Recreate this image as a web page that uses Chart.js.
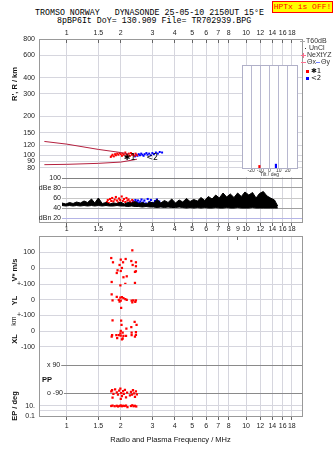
<!DOCTYPE html>
<html>
<head>
<meta charset="utf-8">
<script src="https://cdn.jsdelivr.net/npm/chart.js@4.4.1/dist/chart.umd.min.js"></script>
<style>
  body { margin: 0; background: #fff; width: 335px; height: 451px; position: relative; overflow: hidden; }
  canvas { position: absolute; }
  .titulo { position: absolute; font: 8.3px "Liberation Mono", monospace; white-space: pre; line-height: 10px; color: #000; }
  #hptx { position: absolute; left: 272px; top: 1px; width: 59px; height: 10px; border: 1px solid #f00; background: #ff0;
          color: #f00; font: 8px "Liberation Mono", monospace; line-height: 10px; text-align: center; white-space: pre; }
</style>
</head>
<body>
<div class="titulo" style="left:35px;top:8px">TROMSO NORWAY   DYNASONDE 25-05-10 2150UT 15°E</div>
<div class="titulo" style="left:57px;top:16px">8pBP6It DoY= 130.909 File= TR702939.BPG</div>
<div id="hptx">HPTx is OFF!</div>

<canvas id="miGrafico" width="335" height="226" style="left:0;top:0"></canvas>
<canvas id="graficoTilt" width="64" height="118" style="left:238px;top:62px"></canvas>
<canvas id="miGrafico2" width="263" height="48" style="left:39px;top:174px"></canvas>
<canvas id="miGrafico3" width="335" height="229" style="left:0;top:222px"></canvas>

<script>
/* DATOS */
const freqTicks = [1, 1.5, 2, 3, 4, 5, 6, 7, 8, 10, 12, 14, 16, 18];
const freqTicksMedio = [1, 1.5, 2, 3, 4, 5, 6, 7, 8, 9, 10, 12, 14, 16, 18];
const kmTicks = [80, 90, 100, 120, 150, 200, 300, 400, 600, 800];
const dbTicks = [20, 40, 60, 80, 100];
const tiltTicks = [-20, -10, 0, 10, 20];
const vTicks = [-100, 0, 100, 200];
const ylTicks = [-100, 0, 100];
const xlTicks = [-100, 0, 100];
const ppTicks = [-90, 90];
const epTicks = [0.1, 1, 10];

// curvas del modelo (rojo oscuro)
const curvaArribaFreq = [0.75, 1.0, 1.5, 2.0, 2.22];
const curvaArribaKm = [128, 122, 111, 105, 102];
const curvaAbajoFreq = [0.75, 1.0, 1.5, 2.0, 2.46];
const curvaAbajoKm = [84.5, 85, 86.5, 88.5, 93];

// ecos modo 1 (rojo) y modo 2 (azul)
const oFreq = [1.76, 1.78, 1.80, 1.83, 1.86, 1.88, 1.91, 1.94, 1.97, 2.00, 2.03, 2.05, 2.08, 2.12, 2.15, 2.18, 2.22, 2.25, 2.28, 2.31, 2.35, 2.38, 2.42, 2.46];
const oKm = [97, 99, 101, 98, 102, 100, 103, 101, 104, 102, 99, 103, 101, 105, 102, 100, 103, 99, 104, 101, 102, 99, 103, 100];
const oAmp = [52, 56, 50, 58, 54, 60, 53, 57, 62, 55, 51, 59, 56, 63, 54, 58, 52, 60, 55, 57, 53, 50, 56, 52];
const xFreq = [2.40, 2.44, 2.48, 2.52, 2.56, 2.60, 2.64, 2.68, 2.72, 2.78, 2.82, 2.88, 2.94, 3.00, 3.06, 3.14, 3.22, 3.30, 3.40];
const xKm = [98, 101, 99, 102, 100, 103, 101, 99, 102, 104, 101, 103, 100, 104, 102, 105, 103, 106, 105];
const xAmp = [50, 54, 48, 56, 52, 55, 50, 53, 57, 51, 55, 49, 58, 52, 56, 50, 54, 57, 53];

// barrido de ruido (dB)
const barridoFreq = [1.00, 1.05, 1.10, 1.15, 1.20, 1.26, 1.32, 1.38, 1.45, 1.51, 1.58, 1.66, 1.74, 1.82, 1.91, 2.00, 2.09, 2.19, 2.29, 2.40,
  2.51, 2.63, 2.75, 2.88, 3.02, 3.16, 3.31, 3.47, 3.63, 3.80, 3.98, 4.17, 4.37, 4.57, 4.79, 5.01, 5.25, 5.50, 5.75, 6.03,
  6.31, 6.61, 6.92, 7.24, 7.59, 7.94, 8.32, 8.71, 9.12, 9.55, 10.0, 10.5, 11.0, 11.5, 12.0, 12.6, 13.2, 13.8, 14.5, 15.1];
const ruidoAlto = [50, 48, 51, 49, 52, 50, 54, 51, 58, 50, 60, 49, 51, 48, 50, 49, 52, 48, 51, 50,
  53, 49, 51, 48, 52, 50, 57, 50, 55, 51, 58, 50, 56, 52, 59, 53, 57, 54, 61, 55,
  63, 58, 66, 60, 70, 62, 68, 61, 70, 63, 72, 66, 71, 60, 69, 73, 64, 60, 56, 44];
const ruidoBajo = [45, 44, 45, 44, 45, 44, 45, 44, 45, 44, 45, 44, 45, 44, 44, 45, 44, 44, 43, 44,
  43, 43, 42, 43, 42, 42, 41, 42, 41, 42, 41, 41, 42, 41, 40, 41, 40, 41, 40, 41,
  40, 40, 41, 40, 40, 41, 40, 40, 41, 40, 40, 40, 41, 40, 40, 40, 40, 40, 40, 40];

// tilt
const tiltDeg = [-11, 7];
const tiltCuenta = [1, 1.5];

// panel inferior
const vFreq = [2.32, 1.77, 2.00, 2.13, 1.81, 2.29, 2.06, 1.97, 2.33, 2.43, 2.03, 2.43, 1.92, 2.00, 1.90, 2.43, 2.40, 2.16, 2.07, 1.78, 2.40, 2.12];
const vMs = [114, 65, 55, 59, 38, 46, 38, 21, 21, 38, 2, 13, -13, -17, -30, -19, -23, -51, -57, -87, -93, -99];
const ylFreq = [1.78, 1.90, 1.80, 1.99, 2.03, 2.07, 1.95, 2.00, 2.12, 2.16, 1.97, 2.30, 2.35, 2.43, 2.32, 2.41, 2.01, 1.99];
const ylKm = [34, 19, -4, 13, 17, 11, 0, -6, 4, 0, -11, -6, -4, -4, -17, -13, -51, 91];
const xlFreq = [1.80, 2.01, 2.39, 2.02, 2.45, 2.29, 2.15, 2.00, 2.05, 2.30, 2.43, 1.79, 1.89, 1.95, 2.00, 2.07, 2.14, 2.30, 2.43, 2.40, 1.78, 1.91, 2.05, 1.99, 2.03];
const xlKm = [70, 68, 59, 40, 40, 27, 17, 2, -8, -8, -6, -25, -25, -25, -27, -30, -30, -25, -23, -34, -34, -44, -46, -13, -51];
const ppFreq = [1.77, 1.79, 1.82, 1.86, 1.90, 1.93, 1.96, 1.99, 2.01, 2.03, 2.06, 2.08, 2.11, 2.14, 2.17, 2.28, 2.31, 2.34, 2.37, 2.40, 2.43, 2.46, 1.80, 2.00, 2.25];
const ppDeg = [-80, -72, -95, -66, -85, -100, -75, -62, -90, -110, -78, -95, -70, -118, -88, -82, -100, -72, -92, -115, -80, -98, -120, -128, -105];
const epFreq = [1.77, 1.80, 1.85, 1.90, 1.93, 1.97, 2.00, 2.03, 2.06, 2.10, 2.14, 2.18, 2.28, 2.32, 2.36, 2.40, 2.44];
const epDeg = [10, 12, 9, 11, 8, 10, 13, 9, 11, 10, 12, 6, 10, 14, 9, 11, 8];

/* AYUDAS */
Chart.defaults.font.family = '"Liberation Sans", Arial, sans-serif';
Chart.defaults.font.size = 7;
Chart.defaults.color = '#222';

const fMin = 0.7487;
const fMax = 20.5;
const gris = '#d6d6de';

const puntos = (xs, ys) => xs.map((x, i) => ({ x: x, y: ys[i] }));
const fijarTicks = (valores) => (escala) => { escala.ticks = valores.map(v => ({ value: v })); };
const fijarAncho = (w) => (s) => { s.width = w; s.paddingTop = 0; s.paddingBottom = 0; };
const fijarAlto = (h) => (s) => { s.height = h; s.paddingLeft = 0; s.paddingRight = 0; };
const sinLeyenda = { legend: { display: false }, tooltip: { enabled: false } };

function textoVertical(ctx, texto, x, y, fuente) {
  ctx.save();
  ctx.translate(x, y);
  ctx.rotate(-Math.PI / 2);
  ctx.font = fuente;
  ctx.textAlign = 'center';
  ctx.textBaseline = 'middle';
  ctx.fillStyle = '#111';
  ctx.fillText(texto, 0, 0);
  ctx.restore();
}

const marco = (color) => ({
  id: 'marco',
  afterDraw(chart) {
    const { ctx, chartArea: a } = chart;
    ctx.save();
    ctx.strokeStyle = color;
    ctx.lineWidth = 1;
    ctx.strokeRect(a.left + 0.5, a.top + 0.5, a.right - a.left, a.bottom - a.top);
    ctx.restore();
  }
});

const rojo = { backgroundColor: '#ff0000', borderWidth: 0, pointStyle: 'rect', pointRadius: 1.6 };
const azul = { backgroundColor: '#0000ff', borderWidth: 0, pointStyle: 'rect', pointRadius: 1.6 };

/* Gráfico 1: altura virtual */
const textosArriba = {
  id: 'textosArriba',
  afterDraw(chart) {
    const { ctx, scales } = chart;
    textoVertical(ctx, "R', R / km", 14.5, 84, 'bold 7.5px "Liberation Sans"');

    // etiquetas de traza
    ctx.save();
    ctx.font = '8px "DejaVu Sans"';
    ctx.fillStyle = '#000';
    ctx.textAlign = 'center';
    ctx.textBaseline = 'middle';
    ctx.fillText('✱1', scales.x.getPixelForValue(2.24), scales.y.getPixelForValue(95.5));
    ctx.fillText('<2', scales.x.getPixelForValue(2.99), scales.y.getPixelForValue(95.5));

    // leyenda lateral
    ctx.font = '7px "Liberation Sans"';
    ctx.textAlign = 'left';
    ctx.fillStyle = '#333';
    ctx.lineWidth = 1;
    ctx.strokeStyle = '#aaa';
    ctx.beginPath(); ctx.moveTo(300, 41.5); ctx.lineTo(305, 41.5); ctx.stroke();
    ctx.fillText('T60dB', 306, 41.5);
    ctx.fillRect(305, 48, 1, 1);
    ctx.fillText('UnCl', 309, 48.5);
    ctx.strokeStyle = '#ff7090';
    ctx.beginPath(); ctx.moveTo(301, 55.5); ctx.lineTo(306, 55.5); ctx.moveTo(303.5, 53); ctx.lineTo(303.5, 58); ctx.stroke();
    ctx.fillText('NeXtYZ', 307, 55.5);
    ctx.beginPath(); ctx.moveTo(301, 62.5); ctx.lineTo(306, 62.5); ctx.stroke();
    ctx.fillText('Θx', 307, 62.5);
    ctx.strokeStyle = '#7080ff';
    ctx.beginPath(); ctx.moveTo(316, 62.5); ctx.lineTo(320, 62.5); ctx.stroke();
    ctx.fillText('Θy', 321, 62.5);
    ctx.fillStyle = '#f00';
    ctx.fillRect(306, 70, 3, 3);
    ctx.fillStyle = '#00f';
    ctx.fillRect(306, 77, 3, 3);
    ctx.fillStyle = '#111';
    ctx.font = '7px "DejaVu Sans"';
    ctx.fillText('✱1', 311, 71.5);
    ctx.fillText('<2', 311, 78.5);
    ctx.restore();
  }
};

const ctx = document.getElementById('miGrafico').getContext('2d');
const miGrafico = new Chart(ctx, {
  type: 'scatter',
  data: {
    datasets: [
      { data: puntos(curvaArribaFreq, curvaArribaKm), showLine: true, borderColor: '#b4203e', borderWidth: 1, pointRadius: 0 },
      { data: puntos(curvaAbajoFreq, curvaAbajoKm), showLine: true, borderColor: '#b4203e', borderWidth: 1, pointRadius: 0 },
      { data: puntos(oFreq, oKm), ...rojo, pointRadius: 1.4 },
      { data: puntos(xFreq, xKm), ...azul, pointRadius: 1.4 }
    ]
  },
  options: {
    responsive: false,
    animation: false,
    layout: { padding: { left: 0, top: 0, right: 33, bottom: 0 }, autoPadding: false },
    plugins: sinLeyenda,
    scales: {
      x: {
        type: 'logarithmic', position: 'top', min: fMin, max: fMax,
        afterBuildTicks: fijarTicks(freqTicks), afterFit: fijarAlto(39),
        grid: { color: gris, tickLength: -4, tickColor: '#666' },
        border: { color: '#999' },
        ticks: { callback: v => String(v), padding: 6, autoSkip: false, maxRotation: 0, minRotation: 0 }
      },
      x2: {
        axis: 'x', type: 'logarithmic', position: 'bottom', min: fMin, max: fMax,
        afterBuildTicks: fijarTicks(freqTicks), afterFit: fijarAlto(4),
        grid: { drawOnChartArea: false, tickLength: 4, tickColor: '#666' },
        border: { color: '#999' },
        ticks: { callback: () => '', autoSkip: false, maxRotation: 0, minRotation: 0 }
      },
      y: {
        type: 'logarithmic', min: 30.3, max: 800,
        afterBuildTicks: fijarTicks(kmTicks), afterFit: fijarAncho(39),
        grid: { color: gris, drawTicks: false },
        border: { color: '#999' },
        ticks: { callback: v => String(v), padding: 4, autoSkip: false }
      }
    }
  },
  plugins: [marco('#999'), textosArriba]
});

/* Gráfico tilt (recuadro) */
const fondoTilt = {
  id: 'fondoTilt',
  beforeDraw(chart) {
    const { ctx, chartArea: a } = chart;
    ctx.save();
    ctx.fillStyle = '#fff';
    ctx.fillRect(a.left, a.top, a.right - a.left, a.bottom - a.top + 9);
    ctx.restore();
  }
};
const ctxTilt = document.getElementById('graficoTilt').getContext('2d');
const graficoTilt = new Chart(ctxTilt, {
  type: 'bar',
  data: {
    datasets: [{ data: puntos(tiltDeg, tiltCuenta), backgroundColor: ['#ff0000', '#0000ff'], barThickness: 1.5 }]
  },
  options: {
    responsive: false,
    animation: false,
    layout: { padding: { left: 4, top: 3, right: 5, bottom: 0 }, autoPadding: false },
    plugins: sinLeyenda,
    scales: {
      x: {
        type: 'linear', min: -30, max: 30, offset: false,
        afterBuildTicks: fijarTicks(tiltTicks), afterFit: fijarAlto(12),
        grid: { color: '#b8b8d0', drawTicks: false, offset: false },
        border: { display: false },
        ticks: { font: { size: 5, lineHeight: 1 }, padding: 0, color: '#333', autoSkip: false, maxRotation: 0 },
        title: { display: true, text: 'Tilt / deg', font: { size: 5, lineHeight: 1 }, color: '#333', padding: { top: 0, bottom: 2.5 } }
      },
      y: { display: false, min: 0, max: 40 }
    }
  },
  plugins: [fondoTilt, marco('#b0b0c8')]
});

/* Gráfico 2: amplitud dB */
const colorDb = (v) => ({ 100: '#808080', 80: '#a0a0a0', 60: '#c8c8c8', 40: '#a0a0a0', 20: '#b4b4e6' }[v] || gris);
const ctx2 = document.getElementById('miGrafico2').getContext('2d');
const miGrafico2 = new Chart(ctx2, {
  type: 'scatter',
  data: {
    datasets: [
      { data: puntos(barridoFreq, ruidoBajo), showLine: true, borderColor: '#000', borderWidth: 1, pointRadius: 0 },
      { data: puntos(barridoFreq, ruidoAlto), showLine: true, borderColor: '#000', borderWidth: 1, pointRadius: 0, fill: '-1', backgroundColor: '#000' },
      { data: puntos(oFreq, oAmp), ...rojo, pointRadius: 1.5 },
      { data: puntos(xFreq, xAmp), ...azul, pointRadius: 1.5 }
    ]
  },
  options: {
    responsive: false,
    animation: false,
    layout: { padding: 0, autoPadding: false },
    plugins: sinLeyenda,
    scales: {
      x: { type: 'logarithmic', min: 1, max: fMax, display: false },
      y: {
        min: 12, max: 108,
        afterBuildTicks: fijarTicks(dbTicks), afterFit: fijarAncho(23),
        grid: { drawTicks: false, color: (c) => colorDb(c.tick.value) },
        border: { display: false },
        ticks: {
          padding: 1, autoSkip: false,
          callback: v => (v === 80 ? 'dBe 80' : v === 20 ? 'dBn 20' : String(v))
        }
      }
    }
  }
});

/* Gráfico 3: V*, YL, XL, PP, EP */
const textosAbajo = {
  id: 'textosAbajo',
  afterDraw(chart) {
    const { ctx } = chart;
    const negrita = 'bold 7.5px "Liberation Sans"';
    textoVertical(ctx, 'V* m/s', 14.5, 48, negrita);
    textoVertical(ctx, 'YL', 14.5, 78.5, negrita);
    textoVertical(ctx, 'km', 14.5, 99, '7px "Liberation Sans"');
    textoVertical(ctx, 'XL', 14.5, 117, negrita);
    textoVertical(ctx, 'EP / deg', 14.5, 184, negrita);
    ctx.save();
    ctx.font = negrita;
    ctx.fillStyle = '#111';
    ctx.textBaseline = 'middle';
    ctx.fillText('PP', 42, 158);
    ctx.restore();
  }
};

const ejeApilado = (peso, extra) => Object.assign({
  position: 'left', stack: 'abajo', stackWeight: peso,
  afterFit: fijarAncho(39),
  grid: { color: gris, drawTicks: false },
  border: { color: '#999' }
}, extra);

const ctx3 = document.getElementById('miGrafico3').getContext('2d');
const miGrafico3 = new Chart(ctx3, {
  type: 'scatter',
  data: {
    datasets: [
      { data: puntos(vFreq, vMs), yAxisID: 'v', ...rojo },
      { data: puntos(ylFreq, ylKm), yAxisID: 'yl', ...rojo },
      { data: puntos(xlFreq, xlKm), yAxisID: 'xl', ...rojo },
      { data: puntos(ppFreq, ppDeg), yAxisID: 'pp', ...rojo },
      { data: puntos(epFreq, epDeg), yAxisID: 'ep', ...rojo }
    ]
  },
  options: {
    responsive: false,
    animation: false,
    layout: { padding: { left: 0, top: 0, right: 33, bottom: 0 }, autoPadding: false },
    plugins: sinLeyenda,
    scales: {
      xt: {
        axis: 'x', type: 'logarithmic', position: 'top', min: fMin, max: fMax,
        afterBuildTicks: fijarTicks(freqTicksMedio), afterFit: fijarAlto(14),
        grid: { drawOnChartArea: false, tickLength: -4, tickColor: '#666' },
        border: { color: '#999' },
        ticks: { callback: v => String(v), padding: 6.3, autoSkip: false, maxRotation: 0, minRotation: 0 }
      },
      x: {
        type: 'logarithmic', position: 'bottom', min: fMin, max: fMax,
        afterBuildTicks: fijarTicks(freqTicks), afterFit: fijarAlto(35),
        grid: { color: gris, tickLength: 4, tickColor: '#666' },
        border: { color: '#999' },
        ticks: { callback: v => String(v), padding: 1.5, autoSkip: false, maxRotation: 0, minRotation: 0 },
        title: { display: true, text: 'Radio and Plasma Frequency / MHz', font: { size: 7.5 }, color: '#111', padding: { top: 0, bottom: 7 } }
      },
      ep: ejeApilado(15, {
        type: 'logarithmic', min: 0.1, max: 100,
        afterBuildTicks: fijarTicks(epTicks),
        ticks: { padding: 4, autoSkip: false, callback: v => (v === 10 ? '10.' : v === 0.1 ? '0.1' : '') }
      }),
      pp: ejeApilado(41.4, {
        type: 'linear', min: -141, max: 125,
        afterBuildTicks: fijarTicks(ppTicks),
        grid: { color: '#8a8a8a', drawTicks: false },
        ticks: {
          mirror: true, padding: 8, autoSkip: false,
          showLabelBackdrop: true, backdropColor: '#fff', backdropPadding: { left: 8, right: 1, top: 1, bottom: 1 },
          callback: v => (v === 90 ? 'x 90' : v === -90 ? 'o -90' : '')
        }
      }),
      xl: ejeApilado(44, {
        type: 'linear', min: -180, max: 100,
        afterBuildTicks: fijarTicks(xlTicks),
        ticks: { padding: 4, autoSkip: false, callback: v => (v === 0 ? '0' : v === -100 ? '-100' : '') }
      }),
      yl: ejeApilado(31.5, {
        type: 'linear', min: -100, max: 100,
        afterBuildTicks: fijarTicks(ylTicks),
        ticks: { padding: 4, autoSkip: false, callback: v => (v === 0 ? '0' : v === -100 ? '+-100' : '') }
      }),
      v: ejeApilado(48, {
        type: 'linear', min: -100, max: 205,
        afterBuildTicks: fijarTicks(vTicks),
        ticks: { padding: 4, autoSkip: false, callback: v => (v === 100 ? '100' : v === 0 ? '0' : v === -100 ? '+-100' : '') }
      })
    }
  },
  plugins: [marco('#999'), textosAbajo]
});
</script>
</body>
</html>
